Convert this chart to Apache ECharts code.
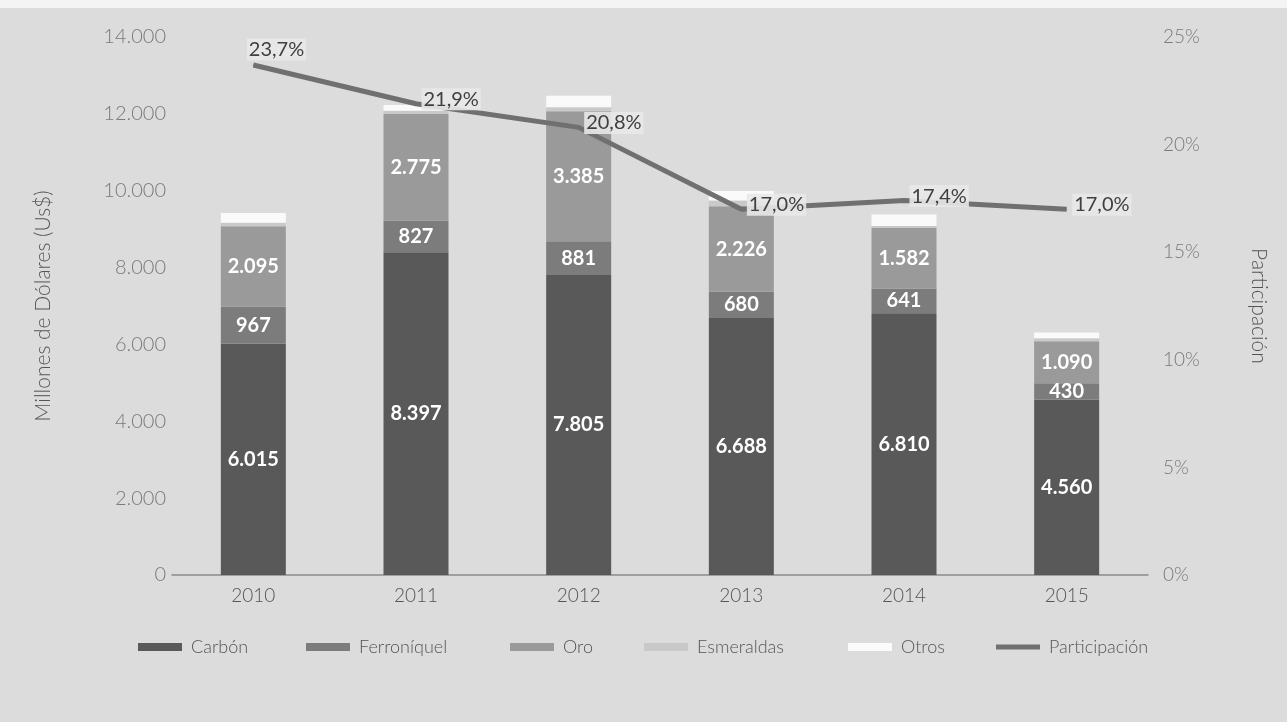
<!DOCTYPE html>
<html>
<head>
<meta charset="utf-8">
<script src="https://cdn.jsdelivr.net/npm/echarts@6/dist/echarts.min.js"></script>
<style>
html,body{margin:0;padding:0;background:#fff;}
#c{position:absolute;left:0;top:0;width:1287px;height:722px;}
</style>
</head>
<body>
<div id="c"></div>
<script>
const years = ['2010','2011','2012','2013','2014','2015'];
const carbon = [6015, 8397, 7805, 6688, 6810, 4560];
const ferroniquel = [967, 827, 881, 680, 641, 430];
const oro = [2095, 2775, 3385, 2226, 1582, 1090];
const esmeraldas = [90, 80, 100, 150, 50, 80];
const otros = [250, 150, 300, 250, 300, 150];
const participacion = [23.7, 21.9, 20.8, 17.0, 17.4, 17.0];
const leftTicks = [0, 2000, 4000, 6000, 8000, 10000, 12000, 14000];
const rightTicks = [0, 5, 10, 15, 20, 25];

const FONT = 'Lato, "Open Sans", sans-serif';
const fmtThousands = v => String(v).replace(/\B(?=(\d{3})+(?!\d))/g, '.');

const chart = echarts.init(document.getElementById('c'), null, {renderer: 'canvas'});

const barLabel = {
  show: true, position: 'inside', color: '#ffffff', fontSize: 20, fontWeight: 'bold',
  fontFamily: FONT, formatter: p => fmtThousands(p.value)
};

function barSeries(name, data, color, label) {
  return {
    name, type: 'bar', stack: 'total', data, barWidth: 65,
    itemStyle: {color},
    label: label ? barLabel : {show: false},
    emphasis: {disabled: true}
  };
}

const lineData = participacion.map((v, i) => i === 0
  ? {value: v, label: {show: true, position: [-6, -26]}}
  : {value: v});

const legendItems = [
  ['Carbón', 133], ['Ferroníquel', 301], ['Oro', 505],
  ['Esmeraldas', 639], ['Otros', 843], ['Participación', 991]
];

chart.setOption({
  backgroundColor: '#dcdcdc',
  animation: false,
  textStyle: {fontFamily: FONT},
  graphic: [{type: 'rect', shape: {x: 0, y: 0, width: 1287, height: 8}, style: {fill: '#f4f4f4'}, z: -1}],
  legend: legendItems.map(([n, x]) => ({
    data: [{name: n, icon: 'rect'}], left: x, top: 633,
    itemWidth: 44, itemHeight: n === 'Participación' ? 5 : 8, itemGap: 0,
    textStyle: {color: '#555', fontSize: 18, fontWeight: 300, fontFamily: FONT, padding: [0, 0, 0, 4]},
    selectedMode: false
  })),
  grid: {left: 172, right: 139, top: 37, bottom: 147, containLabel: false},
  xAxis: {
    type: 'category', data: years,
    axisLine: {lineStyle: {color: '#8a8a8a', width: 1.5}},
    axisTick: {show: false},
    axisLabel: {color: '#555', fontSize: 19, fontWeight: 300, margin: 11, fontFamily: FONT}
  },
  yAxis: [{
    type: 'value', min: 0, max: 14000, interval: 2000,
    name: 'Millones de Dólares (Us$)', nameLocation: 'middle', nameGap: 118, nameRotate: 90,
    nameTextStyle: {color: '#555', fontSize: 21, fontWeight: 300, fontFamily: FONT},
    axisLine: {show: false}, axisTick: {show: false}, splitLine: {show: false},
    axisLabel: {color: '#7a7a7a', fontSize: 20, fontWeight: 300, margin: 6, fontFamily: FONT,
      formatter: v => leftTicks.includes(v) ? fmtThousands(v) : ''}
  }, {
    type: 'value', min: 0, max: 25, interval: 5, position: 'right',
    name: 'Participación', nameLocation: 'middle', nameGap: 100, nameRotate: -90,
    nameTextStyle: {color: '#555', fontSize: 21, fontWeight: 300, fontFamily: FONT},
    axisLine: {show: false}, axisTick: {show: false}, splitLine: {show: false},
    axisLabel: {color: '#7a7a7a', fontSize: 19, fontWeight: 300, margin: 15, fontFamily: FONT,
      formatter: v => rightTicks.includes(v) ? v + '%' : ''}
  }],
  series: [
    barSeries('Carbón', carbon, '#595959', true),
    barSeries('Ferroníquel', ferroniquel, '#7c7c7c', true),
    barSeries('Oro', oro, '#9a9a9a', true),
    barSeries('Esmeraldas', esmeraldas, '#c9c9c9', false),
    barSeries('Otros', otros, '#fafafa', false),
    {
      name: 'Participación', type: 'line', yAxisIndex: 1, data: lineData,
      symbol: 'circle', symbolSize: 1, showSymbol: true,
      lineStyle: {color: '#707070', width: 5}, itemStyle: {color: '#707070'},
      label: {show: true, position: [6, -15], color: '#3f3f3f', fontSize: 20,
        fontFamily: FONT, backgroundColor: 'rgba(232,232,232,0.9)', padding: [1, 2],
        formatter: p => p.value.toFixed(1).replace('.', ',') + '%'},
      labelLayout: {hideOverlap: false},
      emphasis: {disabled: true}, z: 5
    }
  ]
});
</script>
</body>
</html>
